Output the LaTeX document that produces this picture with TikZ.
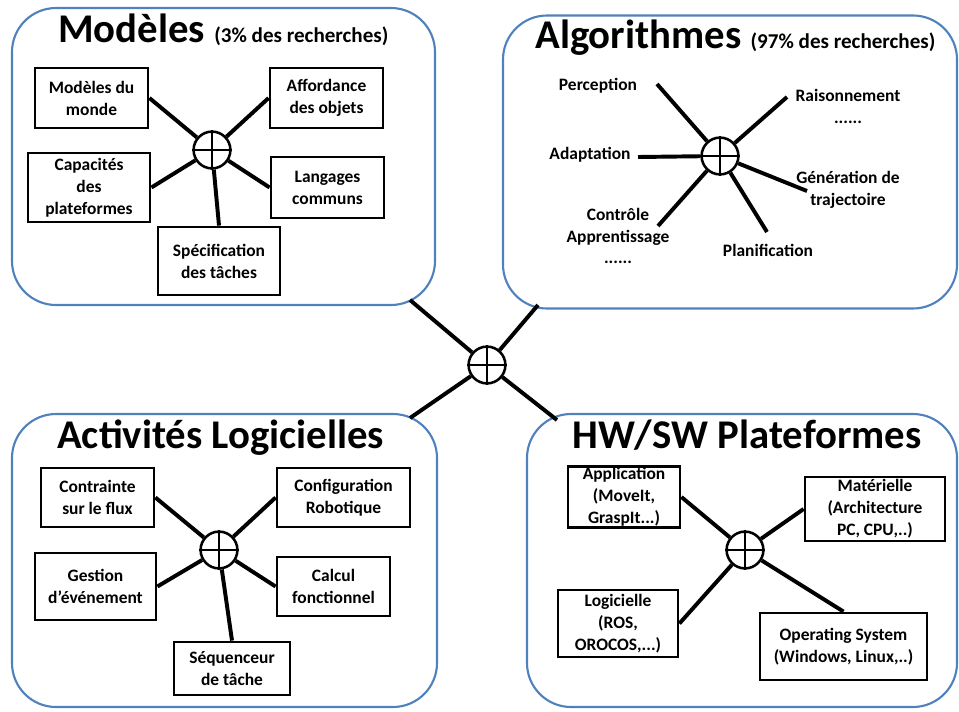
\documentclass[tikz,border=0pt]{standalone}
\usepackage{fontspec}
\setmainfont{Carlito}
\usepackage{tikz}
\usetikzlibrary{positioning}

\definecolor{panelblue}{RGB}{79,129,189}
\newcommand{\boxfont}{\bfseries\fontsize{12.4}{15.6}\selectfont}
\newcommand{\sousfont}{\bfseries\fontsize{15}{17}\selectfont}
\newcommand{\croix}[1]{\draw[line width=1.8pt] (#1.north) -- (#1.south) (#1.west) -- (#1.east);}

\begin{document}
\begin{tikzpicture}[x=0.025cm, y=-0.025cm,
  sz/.style 2 args={minimum width=#1*0.025cm, minimum height=#2*0.025cm},
  panel/.style={draw=panelblue, line width=1.5pt, rounded corners=1.1cm, fill=white, inner sep=0pt},
  box/.style={draw, line width=2pt, align=center, inner sep=1pt, font=\boxfont},
  lbl/.style={align=center, inner sep=1pt, font=\boxfont},
  hub/.style={draw, circle, line width=1.8pt, minimum size=0.92cm, inner sep=0pt, fill=white},
  link/.style={line width=2.8pt},
  titre/.style={anchor=base west, inner sep=0pt, font=\bfseries\fontsize{29}{34}\selectfont}]
\useasboundingbox (0,0) rectangle (959,711);

% les quatre cadres
\node[panel, sz={423}{297}] (pM) at (223.5,156.5) {};
\node[panel, sz={454}{293}] (pA) at (730,162) {};
\node[panel, sz={425}{293}] (pL) at (224.5,560.5) {};
\node[panel, sz={430}{293}] (pH) at (742,560.5) {};

\node[titre] (tM) at (58,42) {Modèles {\sousfont(3\% des recherches)}};
\node[titre] (tA) at (535,48) {Algorithmes {\sousfont(97\% des recherches)}};
\node[titre] (tL) at (57,448) {Activités Logicielles};
\node[titre] (tH) at (572,448) {HW/SW Plateformes};

% noeud central
\coordinate (cM) at (410,300);
\coordinate (cA) at (538,305);
\coordinate (cL) at (410,418);
\coordinate (cH) at (557,420);
\node[hub] (hC) at (487,365) {};
\draw[link] (cM) -- (hC);
\draw[link] (cA) -- (hC);
\draw[link] (cL) -- (hC);
\draw[link] (cH) -- (hC);
\croix{hC}

% Modeles
\node[hub] (hM) at (212,150) {};
\node[box, sz={113}{60}] (mMonde) at (91.5,98) {Modèles du\\monde};
\node[box, sz={113}{60}] (mAfford) at (326.5,98) {Affordance\\des objets};
\node[box, sz={122}{69}] (mCapa) at (89,187.5) {Capacités\\des\\plateformes};
\node[box, sz={113}{61}] (mLang) at (327.5,187.5) {Langages\\communs};
\node[box, sz={122}{68}] (mSpec) at (219,261) {Spécification\\des tâches};
\draw[link] (mMonde.east) -- (hM);
\draw[link] (mAfford.west) -- (hM);
\draw[link] (mCapa.east) -- (hM);
\draw[link] (mLang.west) -- (hM);
\draw[link] (mSpec.north) -- (hM);
\croix{hM}

% Algorithmes
\node[hub] (hA) at (720,156) {};
\node[lbl] (aPerL) at (598,86) {Perception};
\node[lbl] (aRaiL) at (848,106) {Raisonnement\\......};
\node[lbl] (aAdaL) at (590,155) {Adaptation};
\node[lbl] (aGenL) at (848,190) {Génération de\\trajectoire};
\node[lbl] (aConL) at (618,236) {Contrôle\\Apprentissage\\......};
\node[lbl] (aPlaL) at (768,250) {Planification};
\coordinate (aPer) at (657,84);
\coordinate (aRai) at (787,97);
\coordinate (aAda) at (638,157);
\coordinate (aGen) at (807,191);
\coordinate (aCon) at (658,226);
\coordinate (aPla) at (767,232);
\foreach \c in {aPer,aRai,aAda,aGen,aCon,aPla}
  \draw[link] (\c) -- (hA);
\croix{hA}

% Activites Logicielles
\node[hub] (hL) at (219,550) {};
\node[box, sz={113}{59}] (lFlux) at (97.5,497.5) {Contrainte\\sur le flux};
\node[box, sz={133}{59}] (lConf) at (343.5,497.5) {Configuration\\Robotique};
\node[box, sz={121}{67}] (lGest) at (95.5,586.5) {Gestion\\d’événement};
\node[box, sz={113}{59}] (lCalc) at (333.5,586.5) {Calcul\\fonctionnel};
\node[box, sz={116}{53}] (lSeq) at (232,668.5) {Séquenceur\\de tâche};
\draw[link] (lFlux.east) -- (hL);
\draw[link] (lConf.west) -- (hL);
\draw[link] (lGest.east) -- (hL);
\draw[link] (lCalc.west) -- (hL);
\draw[link] (lSeq.north) -- (hL);
\croix{hL}

% HW/SW Plateformes
\node[hub] (hH) at (745,550) {};
\node[box, sz={112}{60}] (hApp) at (624,497) {Application\\(MoveIt,\\GraspIt...)};
\node[box, sz={140}{64}] (hMat) at (875,509) {Matérielle\\(Architecture\\PC, CPU,..)};
\node[box, sz={120}{67}] (hLog) at (618,623.5) {Logicielle\\(ROS,\\OROCOS,...)};
\node[box, sz={167}{67}] (hOS) at (843.5,646.5) {Operating System\\(Windows, Linux,..)};
\draw[link] (hApp.east) -- (hH);
\draw[link] (hMat.west) -- (hH);
\draw[link] (hLog.east) -- (hH);
\draw[link] (hOS.north) -- (hH);
\croix{hH}
\end{tikzpicture}
\end{document}
